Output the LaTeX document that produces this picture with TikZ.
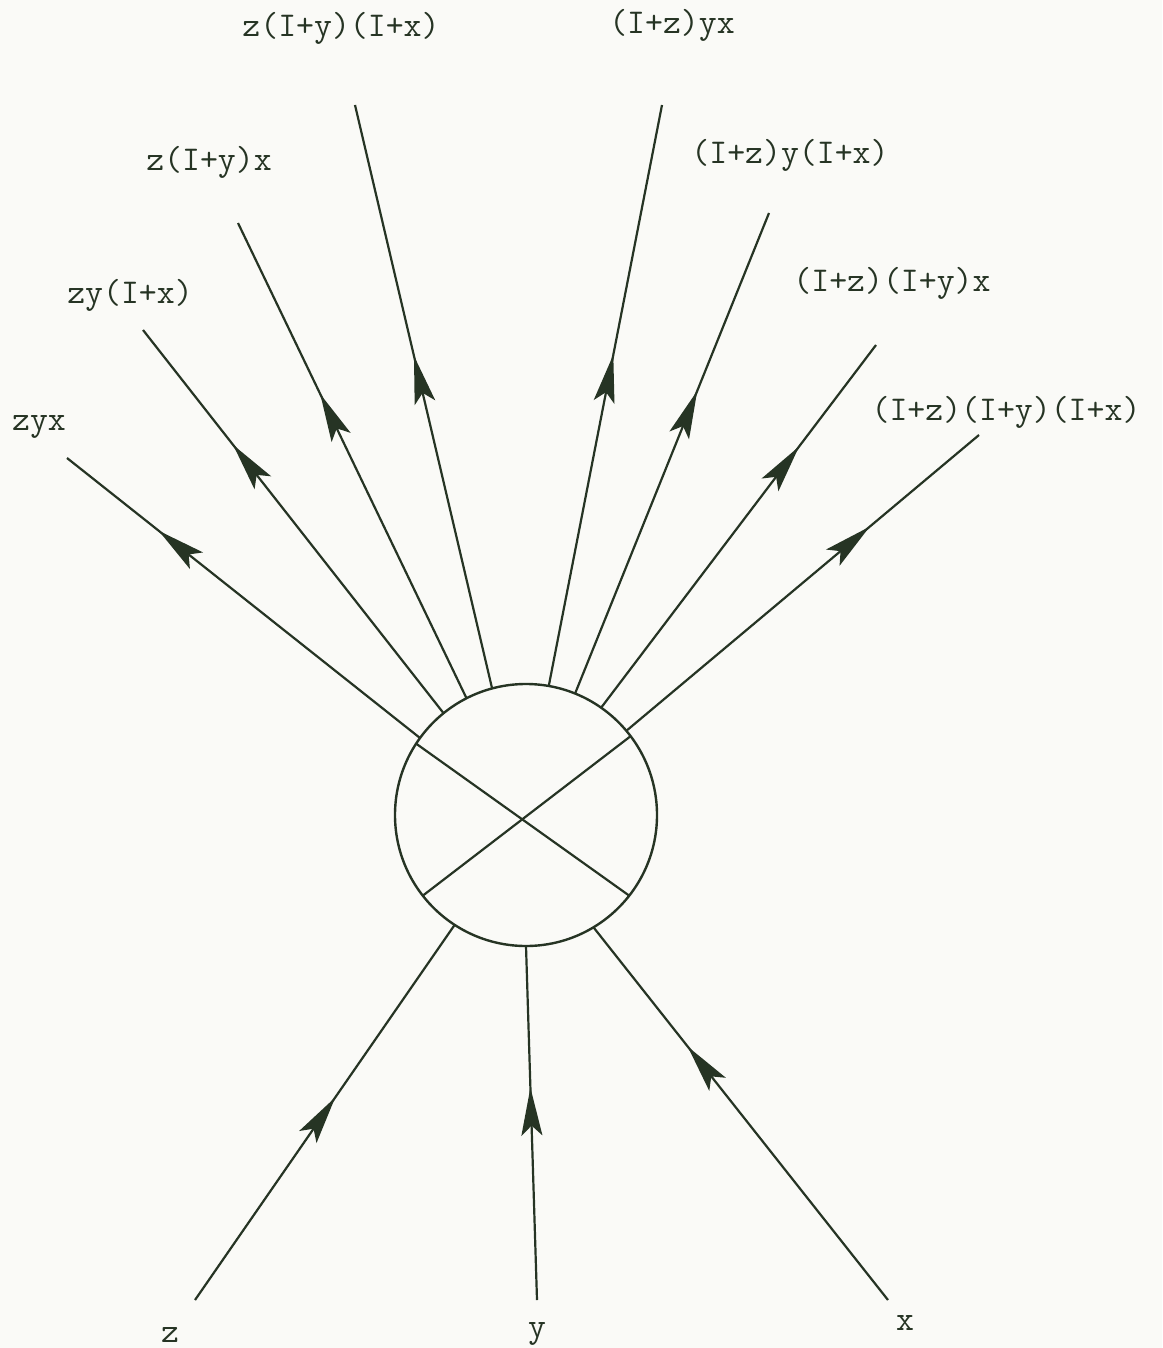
\documentclass[tikz,border=0pt]{standalone}
\usepackage{fontspec}
\usetikzlibrary{arrows.meta,decorations.markings}
\definecolor{ink}{RGB}{38,52,36}
\definecolor{paper}{RGB}{250,250,247}
\begin{document}
\begin{tikzpicture}[x=0.5pt,y=-0.5pt,line width=1pt,draw=ink,
  lbl/.style={font=\ttfamily\fontsize{17.4}{20}\selectfont,text=ink,inner sep=0pt},
  wire/.style={draw=ink,line width=1.1pt},
  arr/.style={wire,postaction={decorate},decoration={markings,mark=at position #1 with {\arrow[ink]{Stealth[length=24pt,width=10.5pt,inset=5pt]}}}}]
\fill[paper] (0,0) rectangle (1162,1348);
\useasboundingbox (0,0) rectangle (1162,1348);
\node[circle,draw=ink,line width=1.2pt,minimum size=131pt,inner sep=0pt,outer sep=0pt] (c) at (526,815) {};
% far ends of outgoing lines
\coordinate (o1) at (67,458);
\coordinate (o2) at (143,330);
\coordinate (o3) at (238,223);
\coordinate (o4) at (355,105);
\coordinate (o5) at (662,105);
\coordinate (o6) at (769,213);
\coordinate (o7) at (876,345);
\coordinate (o8) at (979,435);
% far ends of incoming lines
\coordinate (iz) at (195,1300);
\coordinate (iy) at (537,1300);
\coordinate (ix) at (888,1300);
% labels
\node[lbl] (l1) at (39,427) {zyx};
\node[lbl] (l2) at (130,295) {zy(I+x)};
\node[lbl] (l3) at (209,162) {z(I+y)x};
\node[lbl] (l4) at (341,28) {z(I+y)(I+x)};
\node[lbl] (l5) at (672,25) {(I+z)yx};
\node[lbl] (l6) at (790,155) {(I+z)y(I+x)};
\node[lbl] (l7) at (892,283) {(I+z)(I+y)x};
\node[lbl] (l8) at (1006,412) {(I+z)(I+y)(I+x)};
\node[lbl] (lz) at (170,1335) {z};
\node[lbl] (ly) at (537,1334) {y};
\node[lbl] (lx) at (905,1323) {x};
% outgoing
\draw[arr=0.74] (c.144.6) -- (o1);
\draw[arr=0.70] (c.129.8) -- (o2);
\draw[arr=0.64] (c.117.5) -- (o3);
\draw[arr=0.57] (c.105.6) -- (o4);
\draw[arr=0.57] (c.80.9) -- (o5);
\draw[arr=0.63] (c.68.7) -- (o6);
\draw[arr=0.72] (c.55) -- (o7);
\draw[arr=0.69] (c.40.6) -- (o8);
% incoming
\draw[arr=0.54] (iz) -- (c.237.1);
\draw[arr=0.60] (iy) -- (c.270);
\draw[arr=0.68] (ix) -- (c.301);
% cross inside
\draw[wire] (c.147.5) -- (c.322);
\draw[wire] (c.218.5) -- (c.37.3);
\end{tikzpicture}
\end{document}
